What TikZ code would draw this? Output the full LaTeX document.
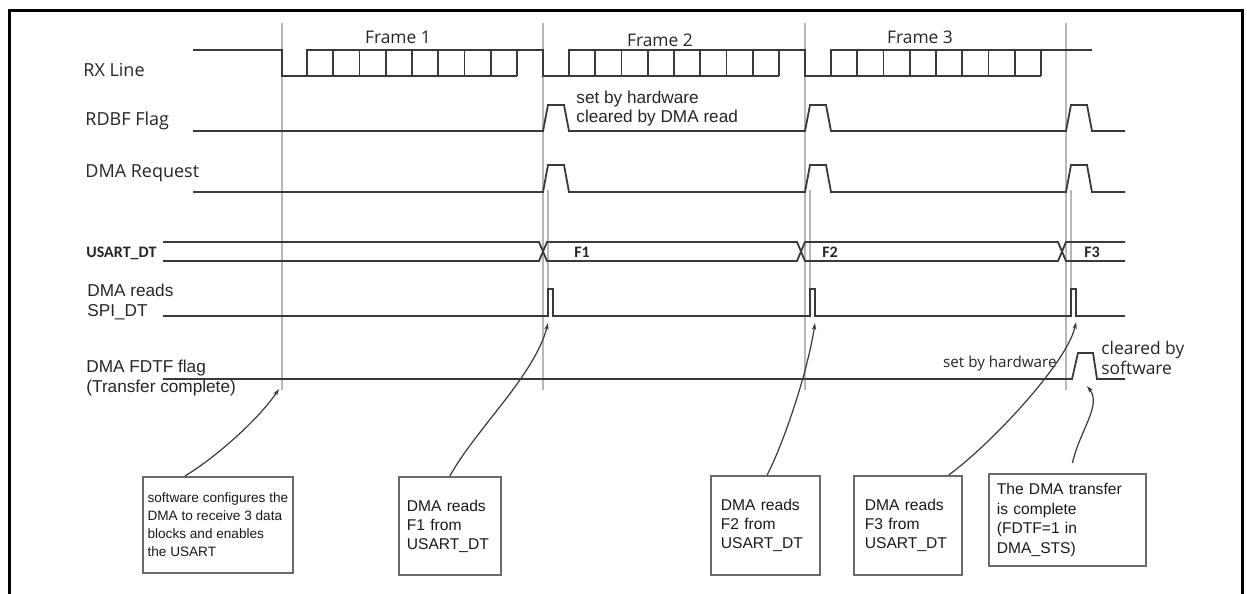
\documentclass[tikz,border=0pt]{standalone}
\usepackage{fontspec}
\setmainfont{Liberation Sans}
\newfontfamily\segoe{Open Sans}
\newfontfamily\calib{Carlito}
\usetikzlibrary{arrows.meta}
\definecolor{wavecol}{HTML}{3A3A3A}
\definecolor{guidecol}{HTML}{B8B8B8}
\definecolor{boxcol}{HTML}{6A6A6A}
\tikzset{
  wave/.style={draw=wavecol,line width=0.9pt},
  guide/.style={draw=guidecol,line width=0.8pt},
  sig/.style={anchor=west,inner sep=0pt,text=black!85,font=\segoe\fontsize{9}{11}\selectfont},
  lbl/.style={anchor=west,inner sep=0pt,align=left,text=black!85,font=\fontsize{8.6}{10}\selectfont},
  dat/.style={inner sep=0pt,text=black!85,font=\calib\bfseries\fontsize{8}{10}\selectfont},
  note/.style={draw=boxcol,line width=0.9pt,anchor=north west,align=left,inner ysep=0pt,text=black!90,font=\fontsize{7.8}{9.5}\selectfont},
  pointer/.style={draw=wavecol,line width=0.6pt,-{Stealth[length=3.5pt,width=2.2pt]}}
}
\begin{document}
\begin{tikzpicture}[x=0.5pt,y=-0.5pt]
\useasboundingbox (0,0) rectangle (1247,594);
\draw[line width=1.5pt] (9,594)--(9,10)--(1242,10)--(1242,594);
% guide lines
\foreach \x in {282,543,805,1066} \draw[guide] (\x,23)--(\x,390);
\foreach \x in {548,810,1071} \draw[guide] (\x,190)--(\x,317);
% RX line
\draw[wave] (193,50)--(282,50)--(282,76)--(307,76)--(307,50)--(543,50)--(543,76)--(569,76)--(569,50)--(805,50)--(805,76)--(831,76)--(831,50)--(1092,50);
\foreach \s in {307,569,831}{
  \draw[wave] (\s,76)--(\s+210,76);
  \foreach \k in {1,...,8} \draw[wave] (\s+26.25*\k,50)--(\s+26.25*\k,76);
}
% RDBF flag and DMA request
\foreach \y/\h in {131/105,192/165}
  \draw[wave] (193,\y) foreach \p in {543,805,1066}{--(\p,\y)--(\p+5,\h)--(\p+21,\h)--(\p+26,\y)}--(1125,\y);
% USART_DT
\draw[wave] (163,242)--(539,242)--(547,261)--(797,261)--(805,242)--(1058,242)--(1066,261)--(1125,261);
\draw[wave] (163,261)--(539,261)--(547,242)--(797,242)--(805,261)--(1058,261)--(1066,242)--(1125,242);
% DMA reads and FDTF flag
\draw[wave] (163,316) foreach \p in {548,810,1071}{--(\p,316)--(\p,289)--(\p+5,289)--(\p+5,316)}--(1125,316);
\draw[wave] (163,379)--(1072,379)--(1078,353)--(1093,353)--(1097,379)--(1125,379);

\node[sig] (rx) at (83,70) {RX Line};
\node[sig] (rdbf) at (85,121) {RDBF Flag};
\node[sig] (req) at (85,173) {DMA Request};
\node[dat,anchor=west] (dt) at (86,253) {USART\_DT};
\node[lbl] (rd) at (87,302) {DMA reads\\SPI\_DT};
\node[lbl] (fdtf) at (86,378) {DMA FDTF flag\\(Transfer complete)};

\node[sig,anchor=center,font=\segoe\fontsize{8.7}{10}\selectfont] (fr1) at (398,37) {Frame 1};
\node[sig,anchor=center,font=\segoe\fontsize{8.7}{10}\selectfont] (fr2) at (660,40) {Frame 2};
\node[sig,anchor=center,font=\segoe\fontsize{8.7}{10}\selectfont] (fr3) at (920,37) {Frame 3};
\node[dat] (f1) at (582,252) {F1};
\node[dat] (f2) at (830,252) {F2};
\node[dat] (f3) at (1092,252) {F3};

\node[lbl,font=\fontsize{8.6}{9.5}\selectfont] (hwnote) at (576,109) {set by hardware\\cleared by DMA read};
\node[sig,anchor=east,font=\segoe\fontsize{7.6}{10}\selectfont] (sethw) at (1057,364) {set by hardware};
\node[sig,align=left,font=\segoe\fontsize{8.7}{10}\selectfont] (clrsw) at (1101,358) {cleared by\\software};

\node[note,inner xsep=2pt,minimum width=75pt,minimum height=48pt,font=\fontsize{6.8}{9}\selectfont] (cfg) at (142,476) {software configures the\\DMA to receive 3 data\\blocks and enables\\the USART};
\node[note,inner xsep=4pt,text width=43pt,minimum height=49pt] (rd1) at (398,476) {DMA reads\\F1 from\\USART\_DT};
\node[note,inner xsep=5pt,text width=44.5pt,minimum height=49.5pt] (rd2) at (710,475) {DMA reads\\F2 from\\USART\_DT};
\node[note,inner xsep=5.5pt,text width=43pt,minimum height=49.5pt] (rd3) at (853,475) {DMA reads\\F3 from\\USART\_DT};
\node[note,inner xsep=4pt,text width=70.5pt,minimum height=46pt,font=\fontsize{7.8}{9.8}\selectfont] (done) at (988,473) {The DMA transfer\\is complete\\(FDTF=1 in\\DMA\_STS)};

\coordinate (t0) at (279,389);
\coordinate (t1) at (548,323);
\coordinate (t2) at (815,323);
\coordinate (t3) at (1076,322);
\coordinate (t4) at (1087,386);
\draw[pointer] (cfg.124) .. controls (215,458) and (258,420) .. (t0);
\draw[pointer] (rd1.north) .. controls (475,430) and (535,375) .. (t1);
\draw[pointer] (rd2.88) .. controls (785,440) and (808,370) .. (t2);
\draw[pointer] (rd3.51) .. controls (990,445) and (1068,362) .. (t3);
\draw[pointer] ([xshift=2.5pt,yshift=5pt]done.north) .. controls (1080,430) and (1102,405) .. (t4);
\end{tikzpicture}
\end{document}
